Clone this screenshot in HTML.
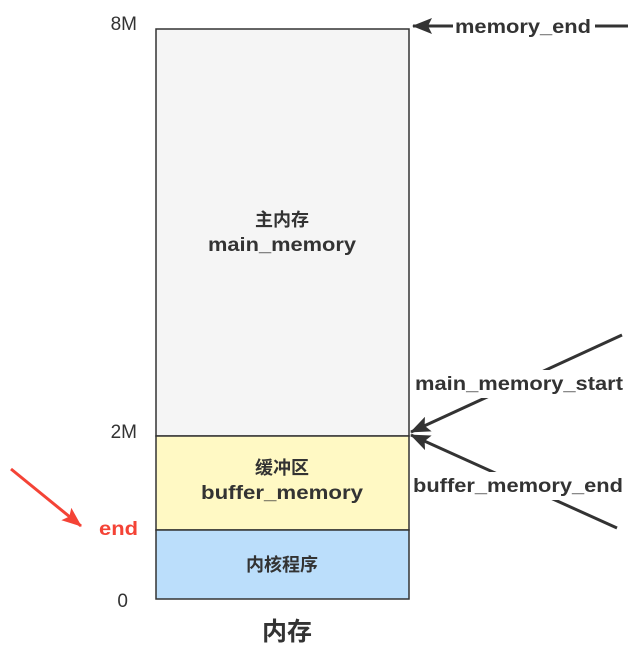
<!DOCTYPE html>
<html><head><meta charset="utf-8"><style>
body{margin:0;background:#fff;}
svg text{font-family:"Liberation Sans","Noto Sans CJK SC",sans-serif;}
</style></head><body>
<svg width="638" height="657" xmlns="http://www.w3.org/2000/svg">
<defs>
<marker id="a" markerWidth="20" markerHeight="16" refX="19" refY="8" orient="auto" markerUnits="userSpaceOnUse" viewBox="0 0 20 16"><path d="M0,0 L20,8 L0,16 L4,8 Z" fill="#333"/></marker>
<marker id="r" markerWidth="20" markerHeight="16" refX="19" refY="8" orient="auto" markerUnits="userSpaceOnUse" viewBox="0 0 20 16"><path d="M0,0 L20,8 L0,16 L4,8 Z" fill="#f44336"/></marker>
</defs>
<rect x="156" y="29" width="253" height="407" fill="#f5f5f5" stroke="#333" stroke-width="1.5"/>
<rect x="156" y="436" width="253" height="94" fill="#fff9c4" stroke="#333" stroke-width="1.5"/>
<rect x="156" y="530" width="253" height="69" fill="#bbdefb" stroke="#333" stroke-width="1.5"/>
<g font-weight="bold" fill="#333" text-anchor="middle">
<text x="282" y="226" font-size="18">主内存</text>
<text x="282" y="251" font-size="19" textLength="148" lengthAdjust="spacingAndGlyphs">main_memory</text>
<text x="282" y="474" font-size="18">缓冲区</text>
<text x="282" y="499" font-size="19" textLength="162" lengthAdjust="spacingAndGlyphs">buffer_memory</text>
<text x="282" y="571" font-size="18">内核程序</text>
<text x="287" y="640" font-size="25">内存</text>
</g>
<g fill="#333" font-size="19" text-anchor="end">
<text x="137" y="30">8M</text>
<text x="137" y="438">2M</text>
<text x="128" y="607">0</text>
</g>
<line x1="622" y1="335" x2="411" y2="432" stroke="#333" stroke-width="3" marker-end="url(#a)"/>
<line x1="617" y1="528" x2="411" y2="435" stroke="#333" stroke-width="3" marker-end="url(#a)"/>
<line x1="628" y1="26" x2="413" y2="26" stroke="#333" stroke-width="3" marker-end="url(#a)"/>
<line x1="11" y1="469" x2="81" y2="526" stroke="#f44336" stroke-width="3" marker-end="url(#r)"/>
<g font-weight="bold" fill="#333" font-size="19">
<rect x="453" y="13" width="142" height="26" fill="#fff"/>
<text x="455" y="33" textLength="136" lengthAdjust="spacingAndGlyphs">memory_end</text>
<rect x="413" y="370" width="212" height="28" fill="#fff"/>
<text x="415" y="390" textLength="208" lengthAdjust="spacingAndGlyphs">main_memory_start</text>
<rect x="411" y="472" width="214" height="28" fill="#fff"/>
<text x="413" y="492" textLength="210" lengthAdjust="spacingAndGlyphs">buffer_memory_end</text>
</g>
<text x="99" y="535" font-weight="bold" fill="#f44336" font-size="19" textLength="39" lengthAdjust="spacingAndGlyphs">end</text>
</svg>
</body></html>
